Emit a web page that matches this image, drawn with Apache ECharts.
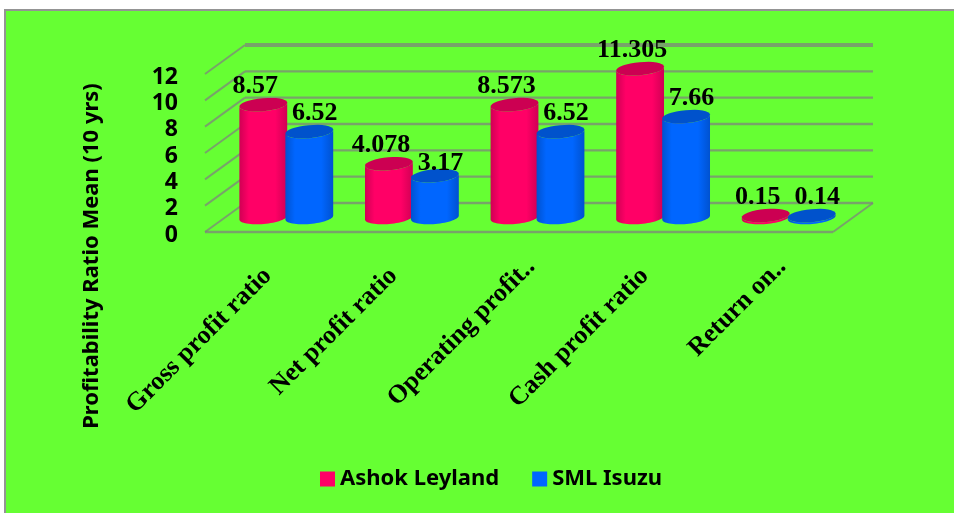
<!DOCTYPE html>
<html>
<head>
<meta charset="utf-8">
<style>html,body{margin:0;padding:0;background:#fff}#chart{width:954px;height:513px}</style>
<script src="https://cdn.jsdelivr.net/npm/echarts@6/dist/echarts.min.js"></script>
</head>
<body>
<div id="chart"></div>
<script>
const categories = ['Gross profit ratio', 'Net profit ratio', 'Operating profit..', 'Cash profit ratio', 'Return on..'];
const ashokLeyland = [8.57, 4.078, 8.573, 11.305, 0.15];
const smlIsuzu = [6.52, 3.17, 6.52, 7.66, 0.14];
const valueLabelsAshok = ['8.57', '4.078', '8.573', '11.305', '0.15'];
const valueLabelsSml = ['6.52', '3.17', '6.52', '7.66', '0.14'];
const gridValues = [0, 2, 4, 6, 8, 10, 12];

// Oblique projection of the chart box: how far the back wall sits from the front plane.
const DEPTH_X = 40, DEPTH_Y = -29;
const RADIUS_X = 24, RADIUS_Y = 6.5, TILT = -5 * Math.PI / 180;
const GRID_COLOR = 'rgba(128,128,128,0.72)';

// Points along a tilted ellipse between two parametric angles.
function arc(cx, cy, from, to) {
  const pts = [];
  for (let i = 0; i <= 32; i++) {
    const t = from + (to - from) * i / 32;
    const ex = RADIUS_X * Math.cos(t), ey = RADIUS_Y * Math.sin(t);
    pts.push([cx + ex * Math.cos(TILT) - ey * Math.sin(TILT),
              cy + ex * Math.sin(TILT) + ey * Math.cos(TILT)]);
  }
  return pts;
}

// Cylinder standing at mid depth, to one side of the band centre.
function cylinder(side, labelSide, body, edge, cap, labels, labelShift) {
  return function (params, api) {
    const idx = api.value(0), val = api.value(1);
    const base = api.coord([idx, 0]), top = api.coord([idx, val]);
    const cx = base[0] + DEPTH_X / 2 - 1.5 + side * 23;
    const y0 = base[1] + DEPTH_Y / 2, y1 = top[1] + DEPTH_Y / 2;
    const lower = arc(cx, y0, 0, Math.PI);
    const upper = arc(cx, y1, Math.PI, 0);
    const nudge = (labelShift[idx] || 0);
    return {
      type: 'group',
      children: [
        {
          type: 'polygon',
          shape: { points: lower.concat(upper) },
          style: {
            fill: new echarts.graphic.LinearGradient(0, 0, 1, 0, [
              { offset: 0, color: edge },
              { offset: 0.2, color: body },
              { offset: 0.75, color: body },
              { offset: 1, color: edge }
            ])
          }
        },
        {
          type: 'polygon',
          shape: { points: arc(cx, y1, 0, Math.PI * 2) },
          style: { fill: cap }
        },
        {
          type: 'text',
          z2: 10,
          style: {
            text: labels[idx],
            x: cx + labelSide,
            y: y1 - 18.5 + nudge,
            align: 'center',
            verticalAlign: 'middle',
            fill: '#000',
            font: 'bold 26px "Liberation Serif"'
          }
        }
      ]
    };
  };
}

// Floor outline, side wall and back wall rules for each axis value.
function boxLines(params, api) {
  const rect = params.coordSys;
  const v = api.value(0);
  const y = api.coord([0, v])[1];
  const left = rect.x, right = rect.x + rect.width;
  const line = (x1, y1, x2, y2, w) => ({
    type: 'line',
    shape: { x1, y1, x2, y2 },
    style: { stroke: GRID_COLOR, lineWidth: w }
  });
  const topRule = v === gridValues[gridValues.length - 1];
  const children = [
    line(left, y, left + DEPTH_X, y + DEPTH_Y, 2),
    line(left + DEPTH_X, y + DEPTH_Y, right + DEPTH_X, y + DEPTH_Y, topRule ? 4 : 2.4)
  ];
  if (v === 0) {
    children.push(line(left, y, right, y, 2.4));
    children.push(line(right, y, right + DEPTH_X, y + DEPTH_Y, 2));
  }
  return { type: 'group', children };
}

// Slanted category names hanging below the floor; shortened names sit a little further along the slant.
function categoryText(params, api) {
  const idx = api.value(0);
  const at = api.coord([idx, 0]);
  const name = categories[idx];
  const shortened = name.endsWith('..');
  return {
    type: 'text',
    x: at[0] + (shortened ? 12 : 0),
    y: at[1] + (shortened ? 31 : 40),
    rotation: Math.PI / 4,
    style: {
      text: name,
      x: 0,
      y: 0,
      align: 'right',
      verticalAlign: 'middle',
      fill: '#000',
      font: 'bold 26px "Liberation Serif"'
    }
  };
}

const chart = echarts.init(document.getElementById('chart'), null, { renderer: 'canvas' });
chart.setOption({
  animation: false,
  backgroundColor: '#fff',
  graphic: [{
    type: 'rect',
    z: -10,
    shape: { x: 5, y: 10, width: 970, height: 520 },
    style: { fill: '#66ff33', stroke: '#949494', lineWidth: 2 }
  }],
  grid: { left: 205, right: 121, top: 74, bottom: 281, outerBoundsMode: 'none' },
  legend: {
    left: 315,
    top: 463,
    icon: 'rect',
    itemWidth: 15,
    itemHeight: 15,
    itemGap: 33,
    data: ['Ashok Leyland', 'SML Isuzu'],
    textStyle: { color: '#000', fontFamily: 'Noto Sans', fontWeight: 'bold', fontSize: 22 }
  },
  xAxis: {
    type: 'category',
    data: categories,
    axisLine: { show: false },
    axisTick: { show: false },
    axisLabel: { show: false }
  },
  yAxis: {
    type: 'value',
    min: 0,
    max: 12,
    interval: 2,
    name: 'Profitability Ratio Mean (10 yrs)',
    nameLocation: 'middle',
    nameRotate: 90,
    nameGap: 113,
    nameTextStyle: {
      color: '#000', fontFamily: 'Noto Sans', fontWeight: 'bold', fontSize: 22,
      verticalAlign: 'middle', padding: [0, 206, 0, 0]
    },
    splitLine: { show: false },
    axisLine: { show: false },
    axisTick: { show: false },
    axisLabel: {
      margin: 27, color: '#000', fontFamily: 'Noto Sans', fontWeight: 'bold', fontSize: 23,
      verticalAlign: 'top', lineHeight: 6
    }
  },
  series: [
    {
      type: 'custom',
      silent: true,
      legendHoverLink: false,
      renderItem: boxLines,
      data: gridValues,
      encode: { y: 0 },
      clip: false,
      z: 1
    },
    {
      type: 'custom',
      silent: true,
      legendHoverLink: false,
      renderItem: categoryText,
      data: categories.map((c, i) => [i]),
      encode: { x: 0 },
      clip: false,
      z: 4
    },
    {
      name: 'Ashok Leyland',
      type: 'custom',
      renderItem: cylinder(-1, -8, '#ff0066', '#d00054', '#cc0052', valueLabelsAshok, {}),
      itemStyle: { color: '#ff0066' },
      data: ashokLeyland.map((v, i) => [i, v]),
      encode: { x: 0, y: 1 },
      clip: false,
      z: 2
    },
    {
      name: 'SML Isuzu',
      type: 'custom',
      renderItem: cylinder(1, 5.5, '#0066ff', '#0052d0', '#0052cc', valueLabelsSml, { 1: 6 }),
      itemStyle: { color: '#0066ff' },
      data: smlIsuzu.map((v, i) => [i, v]),
      encode: { x: 0, y: 1 },
      clip: false,
      z: 3
    }
  ]
});
</script>
</body>
</html>
